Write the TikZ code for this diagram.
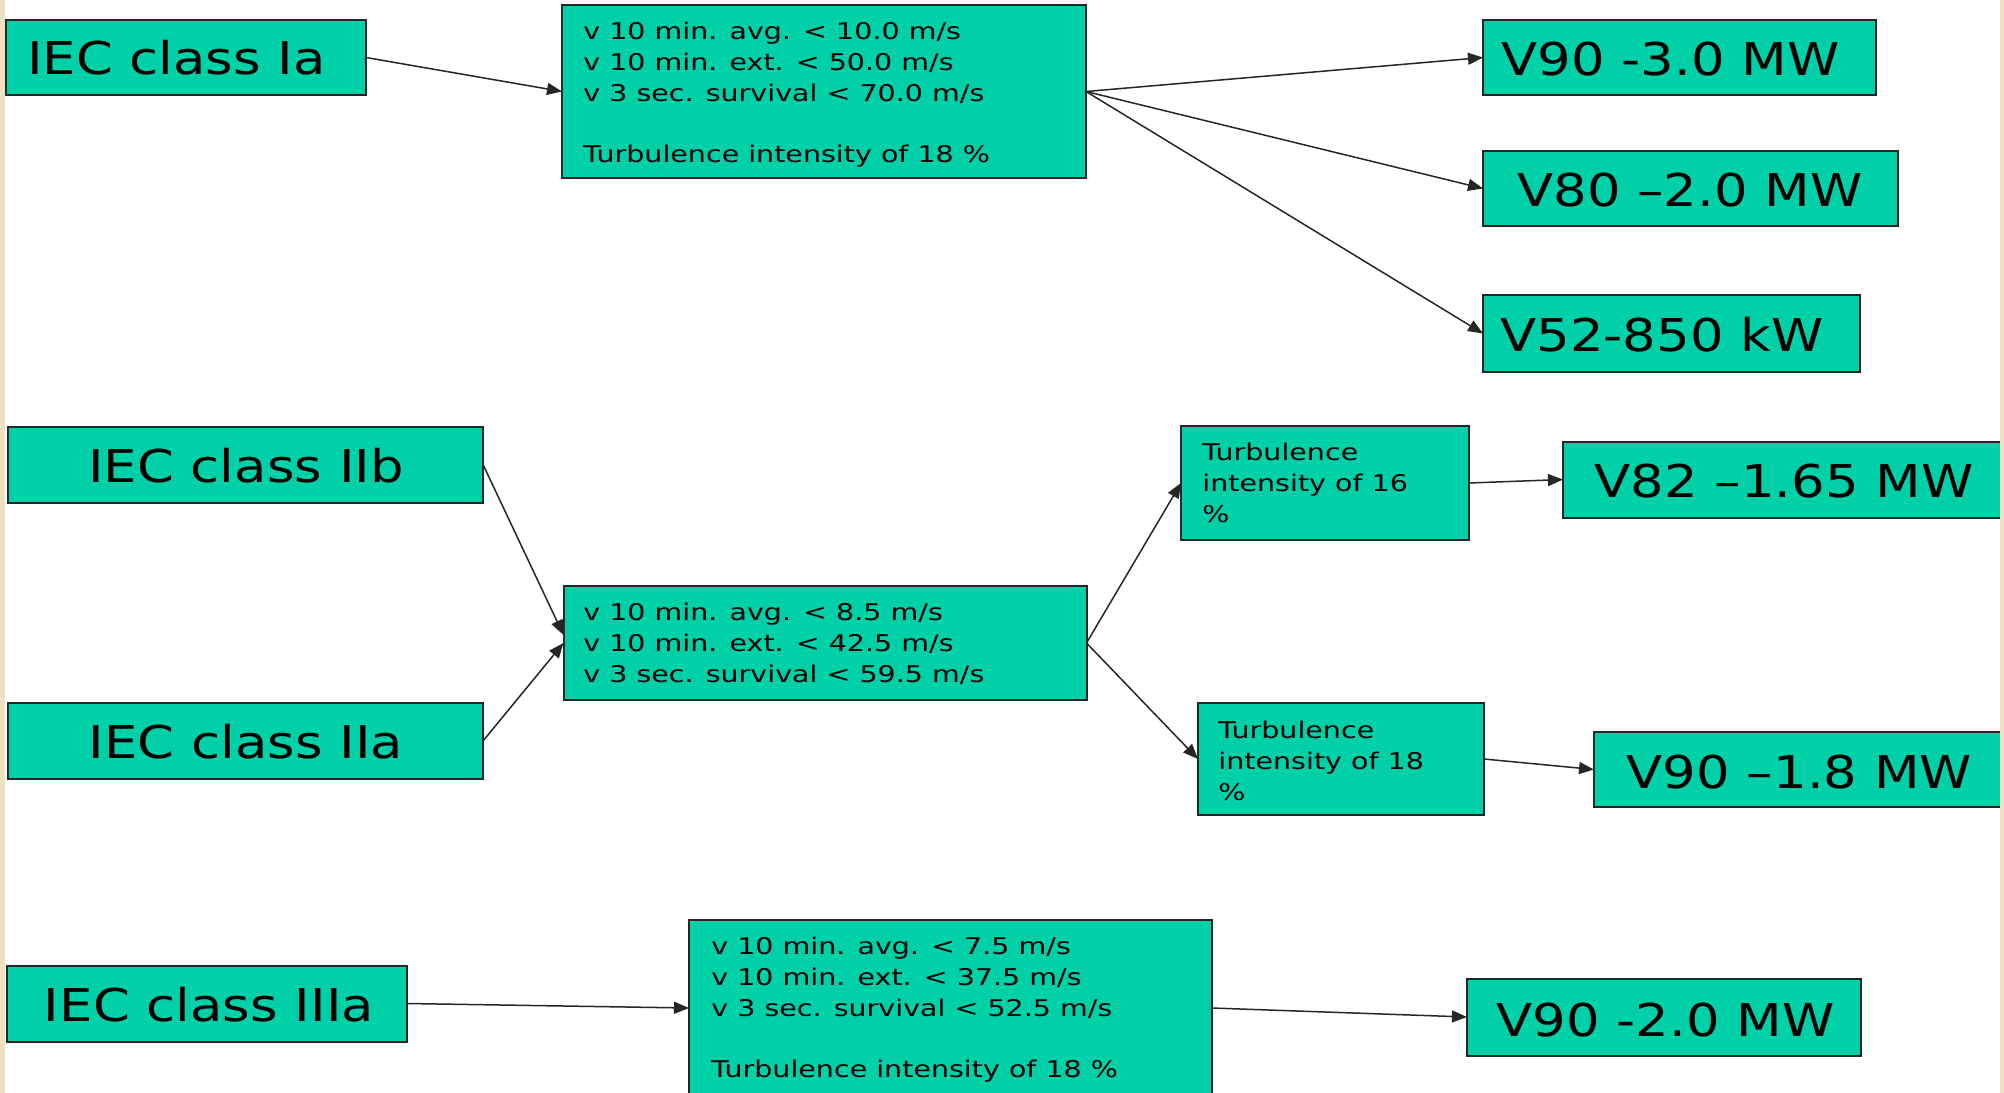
\documentclass[tikz,border=0pt]{standalone}
\usepackage{fontspec}
\usetikzlibrary{arrows.meta}
\newfontfamily\bigf[FakeStretch=1.17]{DejaVu Sans}
\newfontfamily\smf[FakeStretch=1.24]{DejaVu Sans}
\definecolor{boxfill}{RGB}{0,208,168}
\definecolor{parch}{RGB}{240,224,194}
\tikzset{
  box/.style={draw=black!85, line width=1pt, fill=boxfill, inner sep=0pt, outer sep=0pt},
  bigtxt/.style={anchor=base, inner sep=0pt, font=\bigf\fontsize{22.6}{27}\selectfont},
  smtxt/.style={anchor=base west, inner sep=0pt, font=\smf\fontsize{11.5}{15.4}\selectfont},
  conn/.style={draw=black!85, line width=0.75pt, -{Triangle[length=7.5pt,width=6pt]}}
}
\begin{document}
\begin{tikzpicture}[x=0.5pt,y=-0.5pt]
\useasboundingbox (0,0) rectangle (2004,1093);
\clip (0,0) rectangle (2004,1093);
\fill[white] (0,0) rectangle (2004,1093);

% ---- row 1 ----
\node[box, minimum width=180pt, minimum height=37.5pt] (Ia) at (186,57.5) {};
\node[bigtxt] (Iat) at (176.5,74.5) {IEC class Ia};
\node[box, minimum width=262pt, minimum height=86.5pt] (T1) at (824,91.5) {};
\node[smtxt] (T1t) at (583,39.5) {\vtop{\hbox{v 10 min. avg. < 10.0 m/s}\hbox{v 10 min. ext. < 50.0 m/s}\hbox{v 3 sec. survival < 70.0 m/s}\hbox{}\hbox{Turbulence intensity of 18 \%}}};
\node[box, minimum width=196.5pt, minimum height=37.5pt] (V90a) at (1679.5,57.5) {};
\node[bigtxt] (V90at) at (1670.5,75) {V90 -3.0 MW};
\node[box, minimum width=207.5pt, minimum height=37.5pt] (V80) at (1690.5,188.5) {};
\node[bigtxt] (V80t) at (1690,206.5) {V80 –2.0 MW};
\node[box, minimum width=188.5pt, minimum height=38.5pt] (V52) at (1671.5,333.5) {};
\node[bigtxt] (V52t) at (1662,351.5) {V52-850 kW};

% ---- row 2 ----
\node[box, minimum width=237.5pt, minimum height=38pt] (IIb) at (245.5,464.5) {};
\node[bigtxt] (IIbt) at (246,482.5) {IEC class IIb};
\node[box, minimum width=237.5pt, minimum height=38pt] (IIa) at (245.5,741) {};
\node[bigtxt] (IIat) at (246,758) {IEC class IIa};
\node[box, minimum width=261.5pt, minimum height=57pt] (M) at (825,643) {};
\node[smtxt] (Mt) at (583,620.5) {\vtop{\hbox{v 10 min. avg. < 8.5 m/s}\hbox{v 10 min. ext. < 42.5 m/s}\hbox{v 3 sec. survival < 59.5 m/s}}};
\node[box, minimum width=144pt, minimum height=57pt] (Tb16) at (1325,483) {};
\node[smtxt] (Tb16t) at (1202,460.5) {\vtop{\hbox{Turbulence}\hbox{intensity of 16}\hbox{\%}}};
\node[box, minimum width=143pt, minimum height=56pt] (Tb18) at (1341,759) {};
\node[smtxt] (Tb18t) at (1218,738.5) {\vtop{\hbox{Turbulence}\hbox{intensity of 18}\hbox{\%}}};
\node[box, minimum width=220pt, minimum height=38pt] (V82) at (1783,479.5) {};
\node[bigtxt] (V82t) at (1784,497) {V82 –1.65 MW};
\node[box, minimum width=205pt, minimum height=37.5pt] (V90b) at (1799,769.5) {};
\node[bigtxt] (V90bt) at (1799.5,788) {V90 –1.8 MW};

% ---- row 3 ----
\node[box, minimum width=200pt, minimum height=38pt] (IIIa) at (206.5,1003.5) {};
\node[bigtxt] (IIIat) at (209,1021.5) {IEC class IIIa};
\node[box, minimum width=261.5pt, minimum height=88pt] (B) at (950.5,1008) {};
\node[smtxt] (Bt) at (711,954.5) {\vtop{\hbox{v 10 min. avg. < 7.5 m/s}\hbox{v 10 min. ext. < 37.5 m/s}\hbox{v 3 sec. survival < 52.5 m/s}\hbox{}\hbox{Turbulence intensity of 18 \%}}};
\node[box, minimum width=197pt, minimum height=38.5pt] (V90c) at (1664,1017) {};
\node[bigtxt] (V90ct) at (1665.5,1036) {V90 -2.0 MW};

% ---- connectors ----
\draw[conn] (Ia.east) -- (T1.west);
\draw[conn] (T1.east) -- (V90a.west);
\draw[conn] (T1.east) -- (V80.west);
\draw[conn] (T1.east) -- (V52.west);
\draw[conn] (IIb.east) -- ([yshift=4pt]M.west);
\draw[conn] (IIa.east) -- (M.west);
\draw[conn] (M.east) -- (Tb16.west);
\draw[conn] (M.east) -- (Tb18.west);
\draw[conn] (Tb16.east) -- (V82.west);
\draw[conn] (Tb18.east) -- (V90b.west);
\draw[conn] (IIIa.east) -- (B.west);
\draw[conn] (B.east) -- (V90c.west);

% ---- parchment edges ----
\fill[parch] (0,0) rectangle (4.5,1093);
\fill[parch] (2000,0) rectangle (2004,1093);
\end{tikzpicture}
\end{document}
